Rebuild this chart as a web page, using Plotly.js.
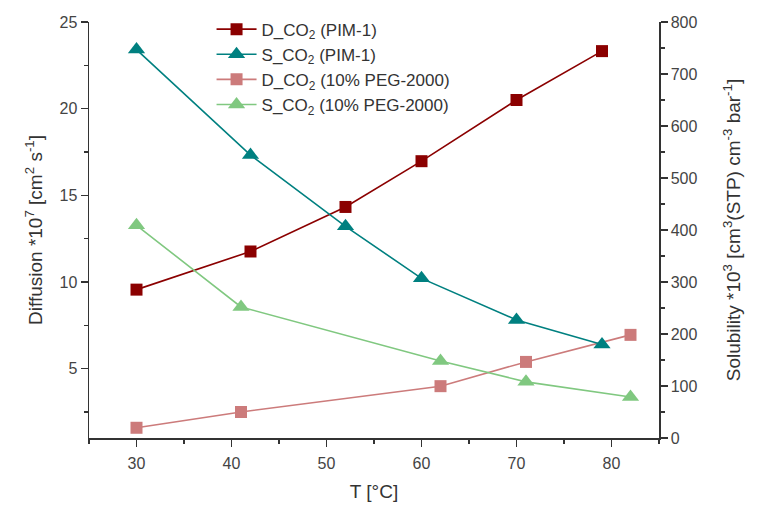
<!DOCTYPE html>
<html>
<head>
<meta charset="utf-8">
<script src="https://cdn.plot.ly/plotly-3.0.1.min.js"></script>
<style>html,body{margin:0;padding:0;background:#fff;}#chart{width:761px;height:520px;}</style>
</head>
<body>
<div id="chart"></div>
<script>
// Temperatures (°C)
const tD_PIM = [30, 42, 52, 60, 70, 79];
const D_PIM = [9.56, 11.76, 14.33, 16.97, 20.5, 23.32];
const tS_PIM = [30, 42, 52, 60, 70, 79];
const S_PIM = [747, 544, 407, 307, 227, 180];
const tD_PEG = [30, 41, 62, 71, 82];
const D_PEG = [1.59, 2.5, 3.99, 5.39, 6.95];
const tS_PEG = [30, 41, 62, 71, 82];
const S_PEG = [409, 252, 148, 108, 79];

const names = [
  'D_CO<sub>2</sub> (PIM-1)',
  'S_CO<sub>2</sub> (PIM-1)',
  'D_CO<sub>2</sub> (10% PEG-2000)',
  'S_CO<sub>2</sub> (10% PEG-2000)'
];

const cDark = '#8b0000', cTeal = '#008080', cRose = '#cc7b7b', cGreen = '#80c880';

const traces = [
  {x: tD_PIM, y: D_PIM, name: names[0], mode: 'lines+markers', yaxis: 'y',
   line: {color: cDark, width: 1.6}, marker: {symbol: 'square', size: 12, color: cDark}},
  {x: tS_PIM, y: S_PIM, name: names[1], mode: 'lines+markers', yaxis: 'y2',
   line: {color: cTeal, width: 1.6}, marker: {symbol: 'triangle-up', size: 15, color: cTeal}},
  {x: tD_PEG, y: D_PEG, name: names[2], mode: 'lines+markers', yaxis: 'y',
   line: {color: cRose, width: 1.6}, marker: {symbol: 'square', size: 12, color: cRose}},
  {x: tS_PEG, y: S_PEG, name: names[3], mode: 'lines+markers', yaxis: 'y2',
   line: {color: cGreen, width: 1.6}, marker: {symbol: 'triangle-up', size: 15, color: cGreen}}
];

const axisCommon = {
  showline: true, linecolor: '#333', linewidth: 1.5, showgrid: false, zeroline: false,
  ticks: 'outside', ticklen: 7, tickwidth: 1.3, tickcolor: '#333',
  tickfont: {family: 'Liberation Sans, Arial, sans-serif', size: 16, color: '#444'}
};

const layout = {
  width: 761, height: 520,
  margin: {l: 89, r: 102, t: 18, b: 82},
  paper_bgcolor: '#fff', plot_bgcolor: '#fff',
  font: {family: 'Liberation Sans, Arial, sans-serif', color: '#333'},
  showlegend: true,
  legend: {x: 0.215, y: 1.025, xanchor: 'left', yanchor: 'top', bgcolor: 'rgba(0,0,0,0)',
           font: {size: 17, color: '#333'}, tracegroupgap: 0, itemwidth: 40},
  xaxis: Object.assign({}, axisCommon, {
    range: [25, 85], tickmode: 'linear', tick0: 30, dtick: 10, ticklabelstandoff: 3,
    minor: {dtick: 5, tick0: 25, ticks: 'outside', ticklen: 4, tickwidth: 1.3, tickcolor: '#333'},
    title: {text: 'T [°C]', font: {size: 19, color: '#333'}, standoff: 14}
  }),
  yaxis: Object.assign({}, axisCommon, {
    range: [1, 25], tickmode: 'linear', tick0: 5, dtick: 5,
    minor: {dtick: 2.5, tick0: 0, ticks: 'outside', ticklen: 4, tickwidth: 1.3, tickcolor: '#333'},
    title: {text: 'Diffusion *10<sup>7</sup> [cm<sup>2</sup> s<sup>-1</sup>]', font: {size: 19, color: '#333'}, standoff: 12}
  }),
  yaxis2: Object.assign({}, axisCommon, {
    overlaying: 'y', side: 'right',
    range: [0, 800], tickmode: 'linear', tick0: 0, dtick: 100,
    minor: {dtick: 50, tick0: 0, ticks: 'outside', ticklen: 4, tickwidth: 1.3, tickcolor: '#333'},
    title: {text: 'Solubility *10<sup>3</sup> [cm<sup>3</sup>(STP) cm<sup>-3</sup> bar<sup>-1</sup>]', font: {size: 19, color: '#333'}, standoff: 30}
  })
};

Plotly.newPlot('chart', traces, layout, {displayModeBar: false, staticPlot: true});
</script>
</body>
</html>
